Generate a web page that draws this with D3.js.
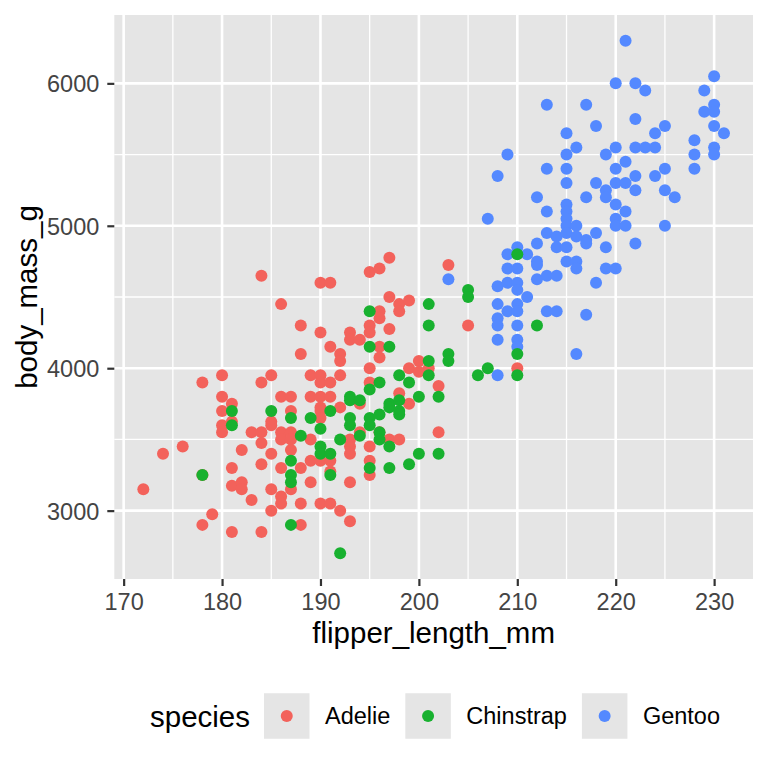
<!DOCTYPE html>
<html>
<head>
<meta charset="utf-8">
<script src="https://cdn.jsdelivr.net/npm/d3@7"></script>
<style>
  body { margin: 0; background: #fff; }
  svg text { font-family: "Liberation Sans", Arial, Helvetica, sans-serif; }
</style>
</head>
<body>
<div id="chart-area"></div>
<script>
// penguins: [flipper_length_mm, body_mass_g]
var species = ["Adelie", "Chinstrap", "Gentoo"];
var colors = ["#F3625B", "#18B12F", "#5489FF"];

var adelie = [
  [172,3150],[174,3400],[176,3450],[178,3250],[178,3900],[178,2900],[179,2975],
  [180,3950],[180,3800],[180,3700],[180,3600],[180,3550],
  [181,3750],[181,3625],[181,3300],[181,3175],[181,2850],
  [182,3425],[182,3200],[182,3150],[183,3550],[183,3075],
  [184,4650],[184,3900],[184,3550],[184,3475],[184,3325],[184,2850],
  [185,3950],[185,3625],[185,3600],[185,3400],[185,3150],[185,3000],
  [186,4450],[186,3800],[186,3550],[186,3500],[186,3300],[186,3100],[186,3050],
  [187,3800],[187,3700],[187,3550],[187,3500],[187,3425],[187,3150],
  [188,4300],[188,4100],[188,3300],[188,3050],[188,2900],
  [189,3950],[189,3800],[189,3500],[189,3350],[189,3200],
  [190,4600],[190,4250],[190,3950],[190,3900],[190,3800],[190,3725],[190,3700],[190,3650],[190,3350],[190,3050],
  [191,4600],[191,4150],[191,3900],[191,3800],[191,3350],[191,3275],[191,3050],
  [192,4100],[192,4050],[192,3950],[192,3725],[192,3000],
  [193,4250],[193,4200],[193,3500],[193,3450],[193,3400],[193,3200],[193,2925],
  [194,4200],[194,3750],[194,3550],
  [195,4675],[195,4300],[195,4250],[195,4000],[195,3900],[195,3450],[195,3350],[195,3250],
  [196,4700],[196,4400],[196,4350],[196,4150],[196,4075],[196,3550],
  [197,4775],[197,4500],[197,4275],[197,3500],
  [198,4450],[198,4400],[198,3825],[198,3500],
  [199,4475],[199,4000],[199,3750],
  [200,4050],[200,3975],[201,4000],[202,3875],[202,3550],[203,4725],[205,4300],[210,4000]
];

var chinstrap = [
  [178,3250],[181,3700],[181,3600],[185,3700],
  [187,3650],[187,3350],[187,3250],[187,3200],[187,2900],[188,3525],[189,3650],
  [190,3575],[190,3450],[190,3400],[191,3700],[191,3400],[191,3250],[192,3500],[192,2700],
  [193,3800],[193,3775],[193,3650],[193,3600],[194,3775],[194,3525],
  [195,4400],[195,4150],[195,3850],[195,3650],[195,3600],[195,3300],
  [196,3900],[196,3675],[196,3550],[196,3500],
  [197,4150],[197,3750],[197,3725],[197,3450],[197,3300],
  [198,3950],[198,3775],[198,3700],[198,3675],[199,3900],[199,3325],
  [200,3800],[200,3400],[201,4450],[201,4300],[201,4050],[201,3950],
  [202,3800],[202,3400],[203,4100],[203,4050],[205,4550],[205,4500],
  [206,3950],[207,4000],[210,4800],[210,4100],[210,3950],[212,4300]
];

var gentoo = [
  [203,4625],[207,5050],
  [208,5350],[208,4575],[208,4450],[208,4350],[208,4300],[208,4200],[208,3950],
  [209,5500],[209,4800],[209,4700],[209,4600],[209,4400],
  [210,4850],[210,4700],[210,4600],[210,4550],[210,4450],[210,4400],[210,4300],[210,4200],[210,4150],
  [211,4800],[211,4500],
  [212,5200],[212,4875],[212,4750],[212,4725],[212,4625],
  [213,5850],[213,5400],[213,5100],[213,4950],[213,4650],[213,4400],
  [214,4925],[214,4850],[214,4650],[214,4400],
  [215,5650],[215,5500],[215,5400],[215,5300],[215,5150],[215,5100],[215,5050],[215,5000],[215,4950],[215,4850],[215,4750],
  [216,5550],[216,5000],[216,4925],[216,4750],[216,4700],[216,4100],
  [217,5850],[217,5200],[217,4900],[217,4875],[217,4375],
  [218,5700],[218,5300],[218,4950],[218,4600],
  [219,5500],[219,5250],[219,5200],[219,4850],[219,4700],
  [220,6000],[220,5550],[220,5400],[220,5300],[220,5150],[220,5050],[220,5000],[220,4700],
  [221,6300],[221,5450],[221,5300],[221,5100],[221,5000],
  [222,6000],[222,5750],[222,5550],[222,5350],[222,5250],[222,4875],
  [223,5950],[223,5550],[224,5650],[224,5550],[224,5350],
  [225,5700],[225,5400],[225,5250],[225,5000],[226,5200],
  [228,5600],[228,5500],[228,5400],[229,5950],[229,5800],
  [230,6050],[230,5850],[230,5800],[230,5700],[230,5550],[230,5500],[231,5650]
];

var xTicks = [170, 180, 190, 200, 210, 220, 230];
var yTicks = [3000, 4000, 5000, 6000];
var xMinor = [175, 185, 195, 205, 215, 225];
var yMinor = [3500, 4500, 5500];

// row order of the data set: Adelie, Gentoo, Chinstrap
var layers = [[adelie, 0], [gentoo, 2], [chinstrap, 1]];

var W = 768, H = 768;
var panel = {left: 114.3, right: 753, top: 15, bottom: 579};
var tickFont = 23.5, titleFont = 29.5;
var panelGrey = "#E5E5E5";

var all = adelie.concat(chinstrap, gentoo);
var xExt = d3.extent(all, d => d[0]);
var yExt = d3.extent(all, d => d[1]);
var xPad = (xExt[1] - xExt[0]) * 0.05;
var yPad = (yExt[1] - yExt[0]) * 0.05;

var x = d3.scaleLinear().domain([xExt[0] - xPad, xExt[1] + xPad]).range([panel.left, panel.right]);
var y = d3.scaleLinear().domain([yExt[0] - yPad, yExt[1] + yPad]).range([panel.bottom, panel.top]);

var svg = d3.select("#chart-area").append("svg")
    .attr("width", W).attr("height", H);

svg.append("rect")
    .attr("x", panel.left).attr("y", panel.top)
    .attr("width", panel.right - panel.left)
    .attr("height", panel.bottom - panel.top)
    .attr("fill", panelGrey);

var grid = svg.append("g");
grid.selectAll(".vminor").data(xMinor).enter().append("line")
    .attr("x1", d => x(d)).attr("x2", d => x(d))
    .attr("y1", panel.top).attr("y2", panel.bottom)
    .attr("stroke", "#fff").attr("stroke-width", 1.3);
grid.selectAll(".hminor").data(yMinor).enter().append("line")
    .attr("y1", d => y(d)).attr("y2", d => y(d))
    .attr("x1", panel.left).attr("x2", panel.right)
    .attr("stroke", "#fff").attr("stroke-width", 1.3);
grid.selectAll(".vmajor").data(xTicks).enter().append("line")
    .attr("x1", d => x(d)).attr("x2", d => x(d))
    .attr("y1", panel.top).attr("y2", panel.bottom)
    .attr("stroke", "#fff").attr("stroke-width", 2.6);
grid.selectAll(".hmajor").data(yTicks).enter().append("line")
    .attr("y1", d => y(d)).attr("y2", d => y(d))
    .attr("x1", panel.left).attr("x2", panel.right)
    .attr("stroke", "#fff").attr("stroke-width", 2.6);

// points
layers.forEach(function(l) {
  svg.append("g").selectAll("circle").data(l[0]).enter().append("circle")
      .attr("cx", d => x(d[0]))
      .attr("cy", d => y(d[1]))
      .attr("r", 6)
      .attr("fill", colors[l[1]]);
});

// axes
var xAxis = svg.append("g")
    .attr("transform", "translate(0," + panel.bottom + ")")
    .call(d3.axisBottom(x).tickValues(xTicks).tickSize(7).tickPadding(7.3).tickFormat(d3.format("d")));
var yAxis = svg.append("g")
    .attr("transform", "translate(" + panel.left + ",0)")
    .call(d3.axisLeft(y).tickValues(yTicks).tickSize(7).tickPadding(8).tickFormat(d3.format("d")));

[xAxis, yAxis].forEach(function(a) {
  a.select(".domain").remove();
  a.selectAll(".tick line").attr("stroke", "#333333").attr("stroke-width", 2.2);
  a.selectAll(".tick text")
      .attr("fill", "#444444")
      .style("font-size", tickFont + "px")
      .style("font-family", "'Liberation Sans', Arial, Helvetica, sans-serif");
});
yAxis.selectAll(".tick text").attr("dy", "0.36em");

svg.append("text")
    .attr("x", (panel.left + panel.right) / 2)
    .attr("y", 643.3)
    .attr("text-anchor", "middle")
    .style("font-size", titleFont + "px")
    .text("flipper_length_mm");

svg.append("text")
    .attr("transform", "translate(36.5," + ((panel.top + panel.bottom) / 2) + ") rotate(-90)")
    .attr("text-anchor", "middle")
    .style("font-size", titleFont + "px")
    .text("body_mass_g");

// legend
var legend = svg.append("g");
var legY = 716, keySize = 45.5;
legend.append("text")
    .attr("x", 150).attr("y", legY + 10.5)
    .style("font-size", titleFont + "px")
    .text("species");

var kx = 264;
species.forEach(function(s, i) {
  legend.append("rect")
      .attr("x", kx).attr("y", legY - keySize / 2)
      .attr("width", keySize).attr("height", keySize)
      .attr("fill", panelGrey);
  legend.append("circle")
      .attr("cx", kx + keySize / 2).attr("cy", legY)
      .attr("r", 6).attr("fill", colors[i]);
  var t = legend.append("text")
      .attr("x", kx + keySize + 15.5).attr("y", legY + 8.4)
      .style("font-size", tickFont + "px")
      .text(s);
  kx = kx + keySize + 15.5 + t.node().getComputedTextLength() + 15;
});
</script>
</body>
</html>
